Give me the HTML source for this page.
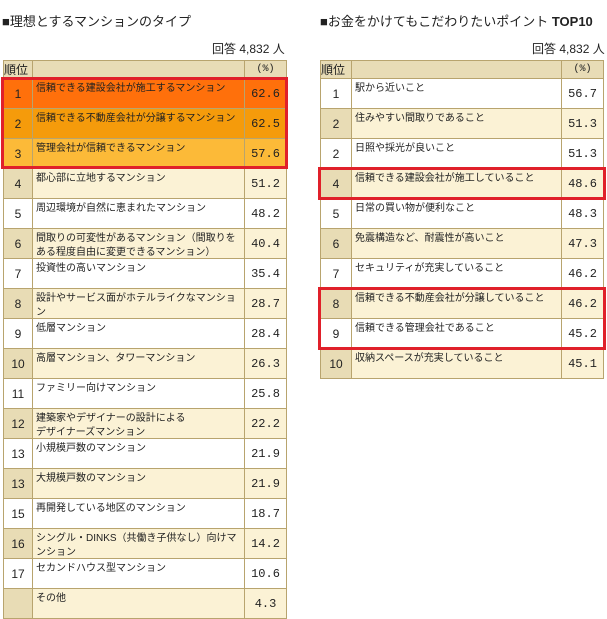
<!DOCTYPE html>
<html><head><meta charset="utf-8"><style>
body{margin:0;width:607px;height:619px;background:#fff;font-family:"Liberation Sans","Noto Sans CJK JP",sans-serif;color:#222;position:relative;overflow:hidden}
.t{position:absolute;top:11px;font-size:13px;white-space:nowrap}
.n{position:absolute;top:40px;font-size:12px}
table{position:absolute;top:60px;border-collapse:collapse;font-size:10px;table-layout:fixed}
td{border:1px solid #b8a46e;padding:0;vertical-align:top;overflow:hidden}
td div{height:29px;overflow:hidden}
td.r{text-align:center;vertical-align:middle;font-size:12px}
td.v{text-align:center;vertical-align:middle;font-size:12px;font-family:"Liberation Mono","Noto Sans CJK JP",monospace}
td.x div{padding:3px 0 0 3px;line-height:14px;height:26px}
tr{height:30px}
tr.h{height:18px;background:#e8dcb6}
tr.h td{vertical-align:middle;font-size:12px;line-height:16px;height:17px}
tr.p{background:#fbf2d5}
tr.p td.r{background:#e8dcb5}
tr.w{background:#fff}
.box{position:absolute;border:3px solid #e0202a;box-sizing:border-box}
</style></head><body>
<div class="t" style="left:2px">■理想とするマンションのタイプ</div>
<div class="n" style="left:212px">回答 4,832 人</div>
<div class="t" style="left:320px">■お金をかけてもこだわりたいポイント <b>TOP10</b></div>
<div class="n" style="left:532px">回答 4,832 人</div>
<table style="left:3px;width:283px">
<colgroup><col style="width:29px"><col style="width:212px"><col style="width:42px"></colgroup>
<tr class="h"><td>順位</td><td></td><td class="v" style="font-size:10px">(%)</td></tr>
<tr style="background:#ff700b"><td class="r">1</td><td class="x"><div>信頼できる建設会社が施工するマンション</div></td><td class="v">62.6</td></tr>
<tr style="background:#f59b0b"><td class="r">2</td><td class="x"><div>信頼できる不動産会社が分譲するマンション</div></td><td class="v">62.5</td></tr>
<tr style="background:#fcba38"><td class="r">3</td><td class="x"><div>管理会社が信頼できるマンション</div></td><td class="v">57.6</td></tr>
<tr class="p"><td class="r">4</td><td class="x"><div>都心部に立地するマンション</div></td><td class="v">51.2</td></tr>
<tr class="w"><td class="r">5</td><td class="x"><div>周辺環境が自然に恵まれたマンション</div></td><td class="v">48.2</td></tr>
<tr class="p"><td class="r">6</td><td class="x"><div>間取りの可変性があるマンション（間取りをある程度自由に変更できるマンション）</div></td><td class="v">40.4</td></tr>
<tr class="w"><td class="r">7</td><td class="x"><div>投資性の高いマンション</div></td><td class="v">35.4</td></tr>
<tr class="p"><td class="r">8</td><td class="x"><div>設計やサービス面がホテルライクなマンション</div></td><td class="v">28.7</td></tr>
<tr class="w"><td class="r">9</td><td class="x"><div>低層マンション</div></td><td class="v">28.4</td></tr>
<tr class="p"><td class="r">10</td><td class="x"><div>高層マンション、タワーマンション</div></td><td class="v">26.3</td></tr>
<tr class="w"><td class="r">11</td><td class="x"><div>ファミリー向けマンション</div></td><td class="v">25.8</td></tr>
<tr class="p"><td class="r">12</td><td class="x"><div>建築家やデザイナーの設計による<br>デザイナーズマンション</div></td><td class="v">22.2</td></tr>
<tr class="w"><td class="r">13</td><td class="x"><div>小規模戸数のマンション</div></td><td class="v">21.9</td></tr>
<tr class="p"><td class="r">13</td><td class="x"><div>大規模戸数のマンション</div></td><td class="v">21.9</td></tr>
<tr class="w"><td class="r">15</td><td class="x"><div>再開発している地区のマンション</div></td><td class="v">18.7</td></tr>
<tr class="p"><td class="r">16</td><td class="x"><div>シングル・DINKS（共働き子供なし）向けマンション</div></td><td class="v">14.2</td></tr>
<tr class="w"><td class="r">17</td><td class="x"><div>セカンドハウス型マンション</div></td><td class="v">10.6</td></tr>
<tr class="p"><td class="r"></td><td class="x"><div>その他</div></td><td class="v">4.3</td></tr>
</table>
<table style="left:320px;width:283px">
<colgroup><col style="width:31px"><col style="width:210px"><col style="width:42px"></colgroup>
<tr class="h"><td>順位</td><td></td><td class="v" style="font-size:10px">(%)</td></tr>
<tr class="w"><td class="r">1</td><td class="x"><div>駅から近いこと</div></td><td class="v">56.7</td></tr>
<tr class="p"><td class="r">2</td><td class="x"><div>住みやすい間取りであること</div></td><td class="v">51.3</td></tr>
<tr class="w"><td class="r">2</td><td class="x"><div>日照や採光が良いこと</div></td><td class="v">51.3</td></tr>
<tr class="p"><td class="r">4</td><td class="x"><div>信頼できる建設会社が施工していること</div></td><td class="v">48.6</td></tr>
<tr class="w"><td class="r">5</td><td class="x"><div>日常の買い物が便利なこと</div></td><td class="v">48.3</td></tr>
<tr class="p"><td class="r">6</td><td class="x"><div>免震構造など、耐震性が高いこと</div></td><td class="v">47.3</td></tr>
<tr class="w"><td class="r">7</td><td class="x"><div>セキュリティが充実していること</div></td><td class="v">46.2</td></tr>
<tr class="p"><td class="r">8</td><td class="x"><div>信頼できる不動産会社が分譲していること</div></td><td class="v">46.2</td></tr>
<tr class="w"><td class="r">9</td><td class="x"><div>信頼できる管理会社であること</div></td><td class="v">45.2</td></tr>
<tr class="p"><td class="r">10</td><td class="x"><div>収納スペースが充実していること</div></td><td class="v">45.1</td></tr>
</table>
<div class="box" style="left:1px;top:77px;width:287px;height:92px"></div>
<div class="box" style="left:318px;top:167px;width:288px;height:33px"></div>
<div class="box" style="left:318px;top:287px;width:288px;height:63px"></div>
</body></html>
